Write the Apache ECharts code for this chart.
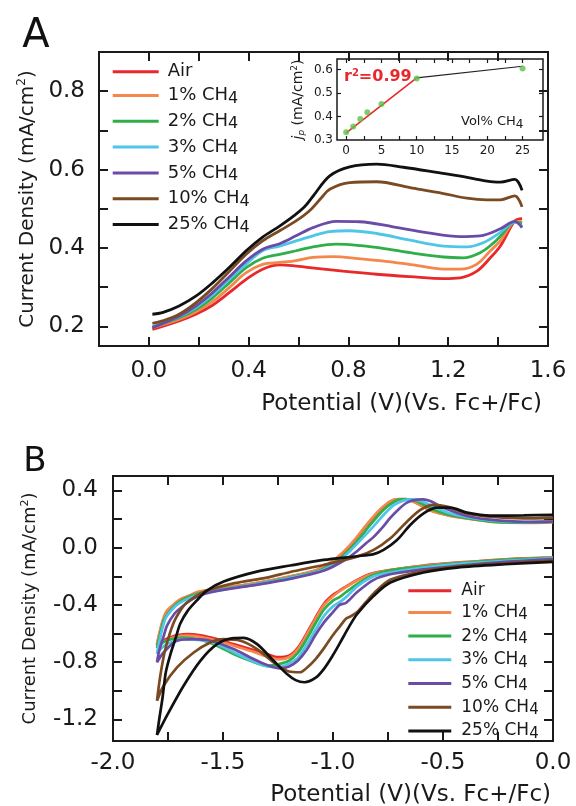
<!DOCTYPE html>
<html><head><meta charset="utf-8">
<script src="https://cdn.jsdelivr.net/npm/echarts@6/dist/echarts.min.js"></script>
<style>html,body{margin:0;padding:0;background:#fff}#c{width:576px;height:806px}</style>
</head><body><div id="c"></div>
<script>
// ---------- data ----------
const seriesNames = ['Air','1% CH4','2% CH4','3% CH4','5% CH4','10% CH4','25% CH4'];
const seriesColors = ['#e8282b','#f4874b','#2fae4a','#4fc6e8','#6a4ca6','#7a4a22','#111111'];

// Panel A : linear sweep, [potential V, current density mA/cm2]
const aAir = [[0.014,0.192],[0.121,0.214],[0.188,0.231],[0.255,0.254],[0.322,0.286],[0.39,0.32],[0.456,0.346],[0.524,0.357],[0.59,0.354],[0.644,0.35],[0.778,0.341],[0.913,0.333],[1.047,0.327],[1.181,0.322],[1.248,0.324],[1.315,0.341],[1.369,0.375],[1.409,0.405],[1.467,0.469],[1.496,0.475]];
const aCH1 = [[0.014,0.197],[0.121,0.218],[0.188,0.237],[0.255,0.263],[0.322,0.299],[0.39,0.337],[0.456,0.358],[0.524,0.363],[0.59,0.368],[0.658,0.376],[0.74,0.378],[0.84,0.373],[0.95,0.366],[1.06,0.357],[1.181,0.346],[1.248,0.346],[1.315,0.359],[1.369,0.393],[1.409,0.418],[1.467,0.466],[1.496,0.467]];
const aCH2 = [[0.014,0.198],[0.121,0.222],[0.188,0.243],[0.255,0.273],[0.322,0.311],[0.39,0.35],[0.456,0.374],[0.524,0.384],[0.59,0.393],[0.658,0.403],[0.75,0.41],[0.85,0.406],[0.95,0.398],[1.047,0.388],[1.181,0.377],[1.26,0.375],[1.328,0.388],[1.382,0.413],[1.409,0.43],[1.467,0.466],[1.496,0.463]];
const aCH3 = [[0.014,0.199],[0.121,0.225],[0.188,0.248],[0.255,0.28],[0.322,0.32],[0.39,0.359],[0.456,0.393],[0.524,0.405],[0.59,0.418],[0.658,0.431],[0.725,0.442],[0.805,0.444],[0.913,0.437],[1.047,0.42],[1.181,0.405],[1.275,0.403],[1.342,0.414],[1.409,0.44],[1.467,0.466],[1.496,0.456]];
const aCH5 = [[0.014,0.197],[0.121,0.226],[0.188,0.252],[0.255,0.286],[0.322,0.326],[0.39,0.367],[0.456,0.397],[0.524,0.411],[0.59,0.431],[0.658,0.452],[0.751,0.468],[0.845,0.467],[0.979,0.454],[1.114,0.439],[1.248,0.429],[1.328,0.431],[1.409,0.449],[1.467,0.468],[1.496,0.452]];
const aCH10 = [[0.014,0.208],[0.054,0.214],[0.121,0.231],[0.188,0.26],[0.255,0.297],[0.322,0.34],[0.39,0.384],[0.456,0.418],[0.524,0.444],[0.59,0.469],[0.644,0.495],[0.69,0.527],[0.725,0.55],[0.805,0.567],[0.913,0.569],[1.047,0.554],[1.181,0.539],[1.275,0.527],[1.355,0.523],[1.409,0.523],[1.467,0.533],[1.496,0.505]];
const aCH25 = [[0.014,0.231],[0.054,0.235],[0.121,0.252],[0.188,0.277],[0.255,0.311],[0.322,0.35],[0.39,0.393],[0.456,0.428],[0.524,0.456],[0.577,0.48],[0.624,0.505],[0.658,0.532],[0.725,0.584],[0.805,0.607],[0.913,0.614],[1.02,0.606],[1.154,0.593],[1.261,0.582],[1.342,0.572],[1.409,0.568],[1.467,0.575],[1.496,0.547]];

// Inset : peak current vs vol% CH4
const insetVol = [0,1,2,3,5,10,25];
const insetJp  = [0.333,0.357,0.389,0.418,0.453,0.562,0.605];
const insetFitLow  = [[0,0.33],[10,0.565]];
const insetFitHigh = [[10,0.565],[25,0.614]];

// Panel B : cyclic voltammograms (cathodic sweep 0 -> -1.8, then back to 0)
const bAir = [[0,-0.07],[-0.217,-0.081],[-0.436,-0.105],[-0.588,-0.125],[-0.739,-0.156],[-0.82,-0.18],[-0.89,-0.225],[-0.95,-0.28],[-0.975,-0.305],[-1.0,-0.33],[-1.04,-0.39],[-1.08,-0.49],[-1.12,-0.6],[-1.16,-0.7],[-1.2,-0.755],[-1.25,-0.765],[-1.3,-0.743],[-1.376,-0.708],[-1.452,-0.674],[-1.527,-0.639],[-1.603,-0.612],[-1.664,-0.604],[-1.72,-0.615],[-1.76,-0.64],[-1.8,-0.68],
  [-1.785,-0.58],[-1.77,-0.5],[-1.755,-0.45],[-1.72,-0.395],[-1.694,-0.365],[-1.65,-0.335],[-1.618,-0.313],[-1.55,-0.295],[-1.497,-0.283],[-1.346,-0.248],[-1.194,-0.202],[-1.073,-0.156],[-1.0,-0.095],[-0.95,-0.03],[-0.906,0.042],[-0.846,0.158],[-0.785,0.263],[-0.739,0.321],[-0.709,0.337],[-0.67,0.338],[-0.62,0.312],[-0.56,0.262],[-0.5,0.235],[-0.436,0.216],[-0.285,0.185],[-0.133,0.175],[0,0.18]];
const bCH1 = [[0,-0.07],[-0.217,-0.083],[-0.436,-0.107],[-0.588,-0.127],[-0.739,-0.157],[-0.82,-0.182],[-0.89,-0.23],[-0.95,-0.285],[-0.975,-0.31],[-1.0,-0.34],[-1.04,-0.4],[-1.08,-0.5],[-1.12,-0.61],[-1.16,-0.71],[-1.2,-0.765],[-1.25,-0.78],[-1.3,-0.76],[-1.376,-0.72],[-1.452,-0.685],[-1.527,-0.65],[-1.6,-0.625],[-1.664,-0.615],[-1.72,-0.625],[-1.76,-0.65],[-1.8,-0.67],
  [-1.785,-0.57],[-1.77,-0.49],[-1.755,-0.44],[-1.72,-0.39],[-1.694,-0.36],[-1.65,-0.332],[-1.618,-0.311],[-1.55,-0.293],[-1.497,-0.281],[-1.346,-0.246],[-1.194,-0.2],[-1.073,-0.154],[-1.0,-0.092],[-0.95,-0.026],[-0.906,0.047],[-0.846,0.163],[-0.785,0.268],[-0.739,0.325],[-0.705,0.338],[-0.665,0.337],[-0.615,0.306],[-0.555,0.258],[-0.495,0.232],[-0.436,0.213],[-0.285,0.182],[-0.133,0.172],[0,0.178]];
const bCH2 = [[0,-0.072],[-0.217,-0.086],[-0.436,-0.11],[-0.588,-0.132],[-0.74,-0.158],[-0.815,-0.19],[-0.89,-0.255],[-0.94,-0.31],[-0.97,-0.345],[-1.0,-0.37],[-1.04,-0.43],[-1.08,-0.53],[-1.12,-0.64],[-1.16,-0.735],[-1.2,-0.79],[-1.25,-0.815],[-1.3,-0.825],[-1.376,-0.79],[-1.452,-0.743],[-1.527,-0.685],[-1.6,-0.645],[-1.679,-0.63],[-1.75,-0.645],[-1.785,-0.675],[-1.8,-0.7],
  [-1.785,-0.6],[-1.77,-0.51],[-1.75,-0.46],[-1.72,-0.405],[-1.69,-0.37],[-1.65,-0.34],[-1.6,-0.315],[-1.5,-0.29],[-1.346,-0.253],[-1.194,-0.207],[-1.06,-0.16],[-0.985,-0.095],[-0.935,-0.03],[-0.89,0.045],[-0.83,0.16],[-0.77,0.265],[-0.72,0.322],[-0.69,0.337],[-0.65,0.337],[-0.6,0.31],[-0.54,0.262],[-0.48,0.232],[-0.41,0.21],[-0.285,0.182],[-0.133,0.174],[0,0.182]];
const bCH3 = [[0,-0.075],[-0.217,-0.093],[-0.436,-0.115],[-0.588,-0.139],[-0.74,-0.174],[-0.815,-0.2],[-0.89,-0.27],[-0.93,-0.33],[-0.96,-0.37],[-1.0,-0.41],[-1.04,-0.475],[-1.08,-0.575],[-1.12,-0.68],[-1.16,-0.77],[-1.2,-0.81],[-1.25,-0.835],[-1.3,-0.83],[-1.376,-0.785],[-1.452,-0.73],[-1.527,-0.675],[-1.6,-0.645],[-1.68,-0.64],[-1.75,-0.67],[-1.785,-0.71],[-1.8,-0.74],
  [-1.79,-0.66],[-1.775,-0.56],[-1.76,-0.49],[-1.73,-0.43],[-1.7,-0.39],[-1.65,-0.35],[-1.6,-0.322],[-1.5,-0.293],[-1.35,-0.256],[-1.2,-0.213],[-1.05,-0.158],[-0.97,-0.09],[-0.92,-0.02],[-0.87,0.06],[-0.815,0.15],[-0.76,0.245],[-0.72,0.3],[-0.68,0.328],[-0.64,0.337],[-0.6,0.325],[-0.542,0.285],[-0.47,0.24],[-0.39,0.212],[-0.285,0.19],[-0.133,0.178],[0,0.183]];
const bCH5 = [[0,-0.08],[-0.217,-0.1],[-0.436,-0.128],[-0.588,-0.151],[-0.74,-0.186],[-0.815,-0.225],[-0.89,-0.31],[-0.94,-0.385],[-0.97,-0.4],[-1.0,-0.45],[-1.04,-0.52],[-1.08,-0.61],[-1.12,-0.715],[-1.16,-0.79],[-1.2,-0.83],[-1.24,-0.843],[-1.3,-0.82],[-1.376,-0.767],[-1.452,-0.708],[-1.558,-0.65],[-1.633,-0.639],[-1.709,-0.65],[-1.77,-0.732],[-1.8,-0.8],
  [-1.79,-0.72],[-1.77,-0.62],[-1.755,-0.546],[-1.72,-0.46],[-1.69,-0.418],[-1.65,-0.37],[-1.6,-0.33],[-1.5,-0.295],[-1.35,-0.26],[-1.2,-0.22],[-1.04,-0.16],[-0.95,-0.09],[-0.891,-0.025],[-0.85,0.03],[-0.815,0.075],[-0.77,0.15],[-0.739,0.209],[-0.7,0.27],[-0.664,0.314],[-0.62,0.335],[-0.59,0.337],[-0.558,0.325],[-0.497,0.279],[-0.391,0.221],[-0.285,0.195],[-0.133,0.18],[0,0.181]];
const bCH10 = [[0,-0.092],[-0.217,-0.109],[-0.436,-0.132],[-0.588,-0.163],[-0.74,-0.225],[-0.815,-0.32],[-0.85,-0.38],[-0.89,-0.45],[-0.92,-0.48],[-0.94,-0.495],[-0.967,-0.546],[-1.0,-0.61],[-1.04,-0.7],[-1.08,-0.78],[-1.12,-0.84],[-1.15,-0.87],[-1.2,-0.865],[-1.27,-0.801],[-1.345,-0.708],[-1.421,-0.65],[-1.497,-0.639],[-1.558,-0.662],[-1.633,-0.732],[-1.709,-0.836],[-1.77,-0.964],[-1.8,-1.069],
  [-1.785,-0.894],[-1.762,-0.708],[-1.724,-0.523],[-1.69,-0.43],[-1.664,-0.383],[-1.588,-0.309],[-1.452,-0.25],[-1.3,-0.209],[-1.194,-0.17],[-1.043,-0.121],[-0.891,-0.063],[-0.815,-0.016],[-0.739,0.065],[-0.664,0.181],[-0.603,0.263],[-0.543,0.298],[-0.482,0.286],[-0.391,0.239],[-0.285,0.216],[-0.133,0.204],[0,0.21]];
const bCH25 = [[0,-0.1],[-0.217,-0.116],[-0.436,-0.139],[-0.588,-0.174],[-0.739,-0.244],[-0.815,-0.337],[-0.891,-0.465],[-0.93,-0.56],[-0.967,-0.662],[-1.0,-0.75],[-1.042,-0.848],[-1.08,-0.91],[-1.13,-0.94],[-1.17,-0.925],[-1.209,-0.883],[-1.27,-0.79],[-1.345,-0.674],[-1.406,-0.63],[-1.452,-0.632],[-1.527,-0.674],[-1.603,-0.79],[-1.679,-0.964],[-1.755,-1.173],[-1.8,-1.308],
  [-1.79,-1.2],[-1.775,-1.05],[-1.76,-0.87],[-1.74,-0.75],[-1.715,-0.63],[-1.694,-0.53],[-1.66,-0.44],[-1.62,-0.37],[-1.573,-0.3],[-1.497,-0.237],[-1.346,-0.168],[-1.194,-0.125],[-1.043,-0.086],[-0.891,-0.06],[-0.815,-0.045],[-0.77,-0.016],[-0.709,0.053],[-0.649,0.158],[-0.588,0.239],[-0.527,0.279],[-0.467,0.279],[-0.391,0.244],[-0.285,0.223],[-0.133,0.225],[0,0.228]];

// tick values / labels
const aXLabels = [0,0.4,0.8,1.2,1.6];
const aXTicks  = [0,0.2,0.4,0.6,0.8,1.0,1.2,1.4];
const aYLabels = [0.2,0.4,0.6,0.8];
const aYTicks  = [0.2,0.3,0.4,0.5,0.6,0.7,0.8];
const inXLabels = [0,5,10,15,20,25];
const inXTicks  = [0,2.5,5,7.5,10,12.5,15,17.5,20,22.5,25];
const inYLabels = [0.3,0.4,0.5,0.6];
const inYTicks  = [0.4,0.5,0.6];
const bXLabels = [-2,-1.5,-1,-0.5,0];
const bXTicks  = [-1.75,-1.5,-1.25,-1,-0.75,-0.5,-0.25];
const bYLabels = [-1.2,-0.8,-0.4,0,0.4];
const bYTicks  = [-1.2,-1.0,-0.8,-0.6,-0.4,-0.2,0,0.2,0.4];

// ---------- chart ----------
const FONT = 'DejaVu Sans';
const INK = '#1a1a1a';
const chart = echarts.init(document.getElementById('c'), null, {renderer:'canvas'});

function axis(kind, gridIndex, position, min, max, ticks, labels, lab, tickLen, tickW) {
  return {
    type:'value', gridIndex, position, min, max,
    axisLine:{show:false, onZero:false}, splitLine:{show:false},
    axisTick:{show:true, inside:true, length:tickLen, customValues:ticks, lineStyle:{color:INK, width:tickW}},
    axisLabel: labels ? Object.assign({show:true, customValues:labels, color:INK, fontFamily:FONT}, lab) : {show:false}
  };
}
const f1 = v => v.toFixed(1);

const aSeries = [aAir,aCH1,aCH2,aCH3,aCH5,aCH10,aCH25];
const bSeries = [bAir,bCH1,bCH2,bCH3,bCH5,bCH10,bCH25];

const series = [];
aSeries.forEach((d,i)=>series.push({
  type:'line', name:seriesNames[i], xAxisIndex:0, yAxisIndex:0, data:d,
  smooth:0.35, showSymbol:false, symbol:'none',
  lineStyle:{color:seriesColors[i], width:2.8}, itemStyle:{color:seriesColors[i]}, z:2+i
}));
bSeries.forEach((d,i)=>series.push({
  type:'line', name:seriesNames[i], xAxisIndex:4, yAxisIndex:4, data:d,
  smooth:0.3, showSymbol:false, symbol:'none',
  lineStyle:{color:seriesColors[i], width:2.7}, itemStyle:{color:seriesColors[i]}, z:2+i
}));
series.push({type:'line', name:'fitLow', xAxisIndex:2, yAxisIndex:2, data:insetFitLow, showSymbol:false, symbol:'none', lineStyle:{color:'#e8282b', width:1.6}, z:5});
series.push({type:'line', name:'fitHigh', xAxisIndex:2, yAxisIndex:2, data:insetFitHigh, showSymbol:false, symbol:'none', lineStyle:{color:'#222', width:1.2}, z:5});
series.push({type:'scatter', name:'jp', xAxisIndex:2, yAxisIndex:2, data:insetVol.map((v,i)=>[v,insetJp[i]]), symbolSize:6, itemStyle:{color:'#5cc24a'}, z:6});

const legFmt = name => { const m = name.match(/^(.*CH)4$/); return m ? '{a|'+m[1]+'}{s|4}' : '{a|'+name+'}'; };
function legend(left, top, iw, gap, fs, lh, pad) {
  return {
    orient:'vertical', left, top, padding:0, itemWidth:iw, itemHeight:3, itemGap:gap, icon:'rect',
    selectedMode:false, data:seriesNames, formatter:legFmt,
    textStyle:{ rich:{
      a:{fontFamily:FONT, fontSize:fs, color:INK, lineHeight:lh, padding:[0,0,0,pad]},
      s:{fontFamily:FONT, fontSize:fs-2, color:INK, lineHeight:lh, padding:[6,0,0,0]}
    }}
  };
}

const nameRich = fs => ({
  a:{fontFamily:FONT, fontSize:fs, color:INK},
  p:{fontFamily:FONT, fontSize:Math.round(fs*0.62), color:INK, padding:[0,0,Math.round(fs*0.55),0]}
});

const yA = axis('y',0,'left',0.15,0.9,aYTicks,aYLabels,{formatter:f1, fontSize:23, margin:14},9,2);
yA.name = '{a|Current Density (mA/cm}{p|2}{a|)}';
yA.nameLocation='middle'; yA.nameGap=60; yA.nameTextStyle={rich:nameRich(20)};

const yIn = axis('y',1,'left',0.3,0.645,inYTicks,inYLabels,{formatter:f1, fontSize:12, margin:4},4,1.2);
yIn.name = '{i|j}{b|p}{a| (mA/cm}{p|2}{a|)}';
yIn.nameLocation='middle'; yIn.nameGap=30;
yIn.nameTextStyle={rich:{
  i:{fontFamily:FONT, fontSize:14, fontStyle:'italic', color:INK},
  b:{fontFamily:FONT, fontSize:9, fontStyle:'italic', color:INK, padding:[6,0,0,0]},
  a:{fontFamily:FONT, fontSize:14, color:INK},
  p:{fontFamily:FONT, fontSize:9, color:INK, padding:[0,0,8,0]}
}};

const yB = axis('y',2,'left',-1.35,0.5,bYTicks,bYLabels,{formatter:f1, fontSize:23, margin:15},9,2);
yB.name = '{a|Current Density (mA/cm}{p|2}{a|)}';
yB.nameLocation='middle'; yB.nameGap=72; yB.nameTextStyle={rich:nameRich(18)};

const option = {
  animation:false,
  backgroundColor:'#fff',
  textStyle:{fontFamily:FONT},
  grid:[
    {left:99, top:52, width:449, height:294, show:true, borderColor:INK, borderWidth:2, backgroundColor:'transparent', outerBoundsMode:'none'},
    {left:337, top:59, width:206, height:81, show:true, borderColor:INK, borderWidth:1.5, backgroundColor:'#fff', outerBoundsMode:'none'},
    {left:113, top:476, width:440, height:265, show:true, borderColor:INK, borderWidth:2, backgroundColor:'transparent', outerBoundsMode:'none'}
  ],
  xAxis:[
    axis('x',0,'bottom',-0.2,1.6,aXTicks,aXLabels,{formatter:f1, fontSize:23, margin:14},9,2),
    axis('x',0,'top',-0.2,1.6,aXTicks,null,null,9,2),
    axis('x',1,'bottom',-1.3,27.9,inXTicks,inXLabels,{formatter:v=>String(v), fontSize:12, margin:5},4,1.2),
    axis('x',1,'top',-1.3,27.9,inXTicks,null,null,4,1.2),
    axis('x',2,'bottom',-2,0,bXTicks,bXLabels,{formatter:f1, fontSize:23, margin:11},9,2),
    axis('x',2,'top',-2,0,bXTicks,null,null,9,2)
  ],
  yAxis:[
    yA,
    axis('y',0,'right',0.15,0.9,aYTicks,null,null,9,2),
    yIn,
    axis('y',1,'right',0.3,0.645,inYTicks,null,null,4,1.2),
    yB,
    axis('y',2,'right',-1.35,0.5,bYTicks,null,null,9,2)
  ],
  legend:[
    legend(112.7, 62.7, 46, 3.8, 18, 20, 4),
    legend(408.3, 582.2, 43, 2.7, 17, 19, 5)
  ],
  graphic:[
    {type:'text', x:36, y:37, style:{text:'A', font:'40px "DejaVu Sans"', fill:'#111', textAlign:'center', textVerticalAlign:'middle'}},
    {type:'text', x:35, y:462, style:{text:'B', font:'34px "DejaVu Sans"', fill:'#111', textAlign:'center', textVerticalAlign:'middle'}},
    {type:'text', x:542, y:404, style:{text:'Potential (V)(Vs. Fc+/Fc)', font:'23px "DejaVu Sans"', fill:INK, textAlign:'right', textVerticalAlign:'middle'}},
    {type:'text', x:551, y:795, style:{text:'Potential (V)(Vs. Fc+/Fc)', font:'23px "DejaVu Sans"', fill:INK, textAlign:'right', textVerticalAlign:'middle'}},
    {type:'text', x:344, y:77, z:100, style:{text:'{r|r}{p|2}{r|=0.99}', textAlign:'left', textVerticalAlign:'middle',
      rich:{r:{fontFamily:FONT, fontSize:16, fontWeight:'bold', fill:'#e8282b'}, p:{fontFamily:FONT, fontSize:10, fontWeight:'bold', fill:'#e8282b', padding:[0,0,8,0]}}}},
    {type:'text', x:461, y:122, z:100, style:{text:'{a|Vol% CH}{s|4}', textAlign:'left', textVerticalAlign:'middle',
      rich:{a:{fontFamily:FONT, fontSize:13, fill:INK}, s:{fontFamily:FONT, fontSize:12, fill:INK, padding:[5,0,0,0]}}}}
  ],
  series
};
chart.setOption(option);
</script>
</body></html>
